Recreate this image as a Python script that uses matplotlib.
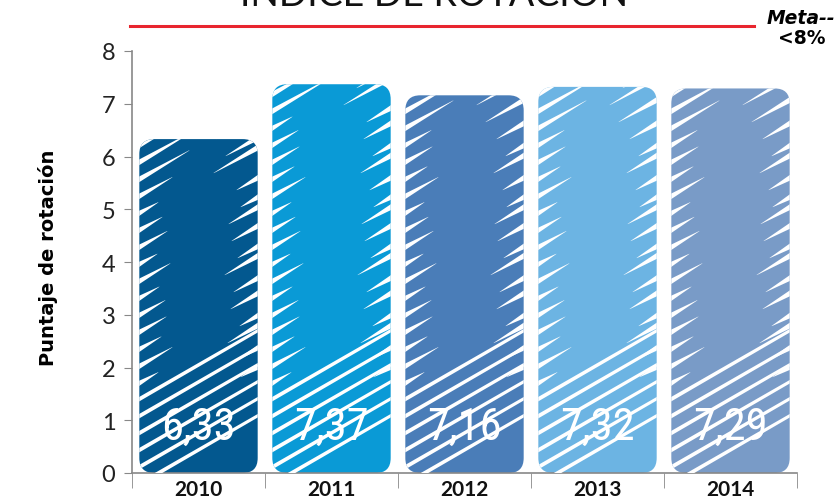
import matplotlib.pyplot as plt
from matplotlib.patches import FancyBboxPatch, Polygon
from matplotlib import font_manager
import numpy as np

years = ['2010', '2011', '2012', '2013', '2014']
scores = [6.33, 7.37, 7.16, 7.32, 7.29]
score_labels = ['6,33', '7,37', '7,16', '7,32', '7,29']
meta_level = 8.47
bar_colors = ['#03588f', '#0a9ad6', '#4a7db8', '#6cb4e3', '#799bc7']

# pick a narrow face for the numbers inside the bars
installed = {f.name for f in font_manager.fontManager.ttflist}
narrow = [n for n in ['Roboto Condensed', 'Open Sans Condensed', 'Liberation Sans Narrow',
                      'DejaVu Sans Condensed'] if n in installed]
num_family = narrow + ['DejaVu Sans']

W, H = 836, 502
fig = plt.figure(figsize=(W / 100, H / 100), dpi=100)
ax = fig.add_axes([132 / W, 1 - 474 / H, (797 - 132) / W, (474 - 52) / H])
ax.set_xlim(-0.5, len(years) - 0.5)
ax.set_ylim(0, 8)

# pixels per data unit, used to size the rounded corners and the scribble slits
pos = ax.get_position()
px_x = W * pos.width / len(years)
px_y = H * pos.height / 8

bar_w = 0.89
radius_px = 15
slope = np.tan(np.radians(30))
left_len = [26, 20, 31, 18, 28, 23, 19, 33, 22, 27]
right_len = [21, 30, 18, 27, 24, 33, 20, 26, 29, 17]


def slit(xa, ya, xb, yb, ta, tb):
    # white wedge from (xa, ya) to (xb, yb), thickness ta at start and tb at end (pixels)
    pts = [(xa, ya - ta / 2), (xb, yb - tb / 2), (xb, yb + tb / 2), (xa, ya + ta / 2)]
    return [(px / px_x, py / px_y) for px, py in pts]


for i, (val, col) in enumerate(zip(scores, bar_colors)):
    x0 = i - bar_w / 2
    bar = FancyBboxPatch((x0, 0), bar_w, val,
                         boxstyle=f"round,pad=0,rounding_size={radius_px / px_x}",
                         mutation_aspect=px_x / px_y,
                         fc=col, ec='none', zorder=2)
    ax.add_patch(bar)

    # diagonal white slits: full width near the base, wedges on the sides above
    L = x0 * px_x
    R = (x0 + bar_w) * px_x
    top = val * px_y
    yk = -14
    k = 0
    while yk < top + 10:
        if yk < 80:
            pts = slit(L - 5, yk, R + 5, yk + (R - L + 10) * slope, 4.5, 3.5)
            ax.add_patch(Polygon(pts, closed=True, fc='white', ec='none', zorder=3,
                                 clip_path=bar))
        else:
            ll = left_len[k % len(left_len)]
            rl = right_len[(k + 3) % len(right_len)]
            if yk > top - 45:
                ll += 28
                rl += 14
            pts = slit(L - 3, yk, L + ll, yk + (ll + 3) * slope, 6, 0.3)
            ax.add_patch(Polygon(pts, closed=True, fc='white', ec='none', zorder=3,
                                 clip_path=bar))
            yr = yk + 8
            pts = slit(R - rl, yr, R + 3, yr + (rl + 3) * slope, 0.3, 6.5)
            ax.add_patch(Polygon(pts, closed=True, fc='white', ec='none', zorder=3,
                                 clip_path=bar))
        yk += 17
        k += 1

    ax.text(i, 0.87, score_labels[i], ha='center', va='center', color='white',
            fontsize=32, family=num_family, fontstretch='condensed', zorder=4)

# goal line above the plot area
ax.plot([-0.515, 4.18], [meta_level, meta_level], color='#e8252e', lw=2.2,
        clip_on=False, zorder=5)
fig.text(835 / W, 1 - 18 / H, 'Meta--', ha='right', va='center', fontsize=13.5,
         fontweight='bold', style='italic', family='DejaVu Sans')
fig.text(826 / W, 1 - 39 / H, '<8%', ha='right', va='center', fontsize=13.5,
         fontweight='bold', family='DejaVu Sans')

fig.text(434 / W, 1 - 6 / H, 'ÍNDICE DE ROTACIÓN', ha='center', va='baseline',
         fontsize=27, family='Lato', color='#111111')

for s in ['top', 'right']:
    ax.spines[s].set_visible(False)
for s in ['left', 'bottom']:
    ax.spines[s].set_color('#888888')
    ax.spines[s].set_linewidth(1.2)

ax.set_yticks(range(0, 9))
ax.tick_params(axis='y', direction='out', length=6, color='#888888', pad=6,
               labelsize=17, labelcolor='#222222')
for t in ax.get_yticklabels():
    t.set_family('Lato')

ax.set_xticks(range(len(years)))
ax.set_xticklabels(years, fontsize=15, fontweight='bold', family='Lato', color='#111111')
ax.tick_params(axis='x', length=0, pad=4)
ax.set_xticks(np.arange(-0.5, len(years)), minor=True)
ax.tick_params(axis='x', which='minor', direction='out', length=11, color='#888888')

fig.text(48 / W, 1 - 258 / H, 'Puntaje de rotación', rotation=90, ha='center', va='center',
         fontsize=14, fontweight='bold', family='DejaVu Sans')

fig.savefig('out.png', dpi=100)
